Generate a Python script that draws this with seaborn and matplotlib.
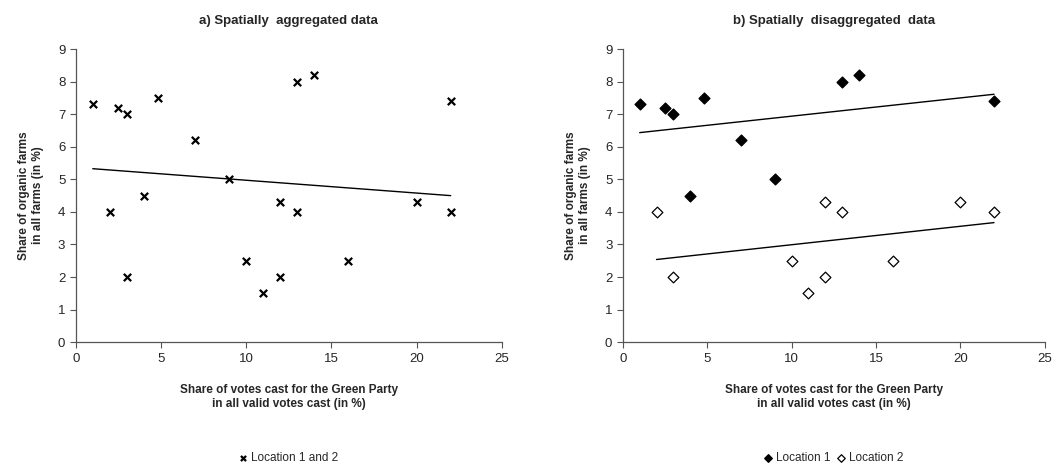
import numpy as np
import pandas as pd
import matplotlib
matplotlib.use("Agg")
import matplotlib.pyplot as plt
import seaborn as sns

# Location 1 (votes share %, organic farms share %)
loc1_votes = [1, 2.5, 3, 4, 4.8, 7, 9, 13, 14, 22]
loc1_organic = [7.3, 7.2, 7.0, 4.5, 7.5, 6.2, 5.0, 8.0, 8.2, 7.4]
# Location 2
loc2_votes = [2, 3, 10, 11, 12, 12, 13, 16, 20, 22]
loc2_organic = [4.0, 2.0, 2.5, 1.5, 4.3, 2.0, 4.0, 2.5, 4.3, 4.0]

x_ticks = [0, 5, 10, 15, 20, 25]
y_ticks = list(range(0, 10))

df = pd.DataFrame({
    "votes": loc1_votes + loc2_votes,
    "organic": loc1_organic + loc2_organic,
    "location": ["Location 1"] * len(loc1_votes) + ["Location 2"] * len(loc2_votes),
})

sns.set_theme(style="ticks")
plt.rcParams["font.family"] = ["Liberation Sans", "DejaVu Sans"]

fig = plt.figure(figsize=(10.52, 4.68), dpi=100)
ax_a = fig.add_axes([0.072, 0.269, 0.405, 0.626])
ax_b = fig.add_axes([0.592, 0.269, 0.401, 0.626])

xlabel = "Share of votes cast for the Green Party\nin all valid votes cast (in %)"
ylabel = "Share of organic farms\nin all farms (in %)"

# a) aggregated
sns.regplot(data=df, x="votes", y="organic", ax=ax_a, ci=None, marker="x",
            color="black", label="Location 1 and 2",
            scatter_kws={"s": 28, "linewidths": 1.6, "alpha": 1},
            line_kws={"lw": 1.0})

# b) disaggregated
d1 = df[df.location == "Location 1"]
d2 = df[df.location == "Location 2"]
sns.regplot(data=d1, x="votes", y="organic", ax=ax_b, ci=None, marker="D", color="black",
            label="Location 1", scatter_kws={"s": 30, "alpha": 1}, line_kws={"lw": 1.0})
sns.regplot(data=d2, x="votes", y="organic", ax=ax_b, ci=None, marker="D", color="black",
            label="Location 2",
            scatter_kws={"s": 30, "facecolors": "white", "edgecolors": "black",
                         "linewidths": 0.9, "alpha": 1},
            line_kws={"lw": 1.0})

titles = ["a) Spatially  aggregated data", "b) Spatially  disaggregated  data"]
for ax, title in zip([ax_a, ax_b], titles):
    ax.set_xlim(0, 25)
    ax.set_ylim(0, 9)
    ax.set_xticks(x_ticks)
    ax.set_yticks(y_ticks)
    ax.tick_params(labelsize=9.5, length=4, width=0.8, color="#555555")
    ax.set_xlabel(xlabel, fontsize=8.5, fontweight="bold", labelpad=14)
    ax.set_ylabel(ylabel, fontsize=8.5, fontweight="bold", labelpad=10)
    ax.set_title(title, fontsize=9.5, fontweight="bold", pad=18)
    for s in ["left", "bottom"]:
        ax.spines[s].set_color("#555555")
        ax.spines[s].set_linewidth(0.9)
    sns.despine(ax=ax)
    ax.legend(loc="center", bbox_to_anchor=(0.5, -0.395), ncol=2, frameon=False,
              fontsize=8.5, handlelength=0.7, handletextpad=0.3,
              columnspacing=0.6, markerscale=0.7)

fig.savefig("out.png", dpi=100)
